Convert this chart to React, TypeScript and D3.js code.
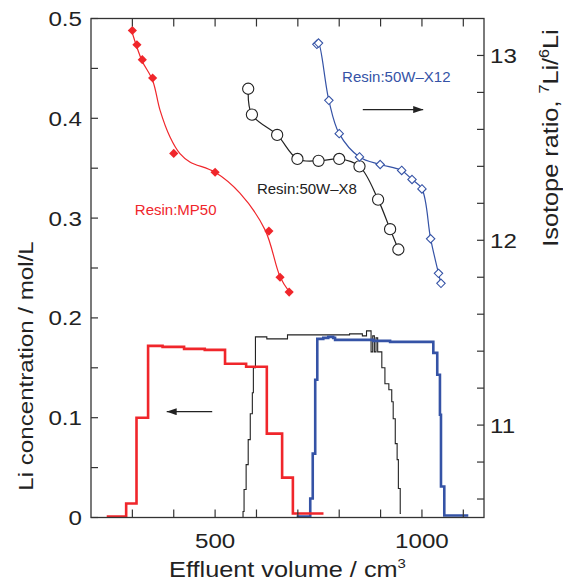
import React from 'react';
import * as d3 from 'd3';

// ---- isotope ratio data (right axis) ----
const mp50Vol = [300, 311, 324, 349, 400, 500, 630, 657, 679];
const mp50Ratio = [13.135, 13.058, 12.977, 12.878, 12.47, 12.368, 12.05, 11.8, 11.72];
// smoothed fit drawn through the MP50 ratios
const mp50FitVol = [298, 323, 349, 367, 391, 415, 439, 500, 560, 621, 657, 679];
const mp50FitRatio = [13.135, 12.973, 12.865, 12.703, 12.559, 12.469, 12.424, 12.368, 12.255, 12.055, 11.803, 11.722];

const x8Vol = [580, 589, 650, 699, 750, 800, 849, 894, 923, 943];
const x8Ratio = [12.82, 12.68, 12.57, 12.44, 12.43, 12.44, 12.4, 12.22, 12.06, 11.95];

const x12Vol = [746, 750, 775, 800, 849, 899, 951, 976, 1000, 1021, 1040, 1046];
const x12Ratio = [13.06, 13.067, 12.757, 12.577, 12.451, 12.41, 12.378, 12.329, 12.278, 12.008, 11.821, 11.767];

// ---- Li concentration elution curves (left axis) ----
const mp50StepVol = [238, 285, 310, 338, 373, 425, 475, 524, 575, 625, 662, 688, 762];
const mp50StepConc = [0.001, 0.014, 0.1, 0.172, 0.171, 0.169, 0.168, 0.154, 0.151, 0.084, 0.04, 0.004, 0.004];

const x8StepVol = [565, 567.5, 570, 575, 580, 585, 590, 592.5, 597.5, 625, 675, 825, 856, 866, 877, 881, 885, 889, 893, 903, 910.5, 920, 927, 930.5, 935.5, 940, 943, 947.5, 949];
const x8StepConc = [0.0, 0.006, 0.028, 0.053, 0.078, 0.104, 0.125, 0.15, 0.181, 0.179, 0.183, 0.184, 0.182, 0.187, 0.166, 0.182, 0.166, 0.18, 0.166, 0.15, 0.134, 0.128, 0.116, 0.099, 0.074, 0.058, 0.029, 0.004, 0.004];

const x12StepVol = [697, 730, 736, 742, 747, 761.5, 773.5, 785.5, 790, 882.5, 923, 1027.5, 1037, 1043.5, 1046, 1054, 1112];
const x12StepConc = [0.001, 0.019, 0.064, 0.138, 0.179, 0.18, 0.181, 0.18, 0.178, 0.177, 0.176, 0.165, 0.143, 0.103, 0.031, 0.002, 0.002];

// ---- axes ----
const volTicks = [300, 400, 500, 600, 700, 800, 900, 1000, 1100];
const volLabels = ['500', '1000'];
const concTicks = [0, 0.05, 0.1, 0.15, 0.2, 0.25, 0.3, 0.35, 0.4, 0.45, 0.5];
const concLabels = ['0', '0.1', '0.2', '0.3', '0.4', '0.5'];
const ratioTicks = [10.6, 10.8, 11, 11.2, 11.4, 11.6, 11.8, 12, 12.2, 12.4, 12.6, 12.8, 13];
const ratioLabels = ['11', '12', '13'];

const RED = '#f0262b';
const BLUE = '#3553a6';
const INK = '#222';

function SText(props: any) {
  const { x, y, size, anchor = 'start', rotate = 0, sx = 1.15, fill = INK, children } = props;
  return (
    <g transform={`translate(${x},${y}) rotate(${rotate}) scale(${sx},1)`}>
      <text fontSize={size} textAnchor={anchor} fill={fill}>
        {children}
      </text>
    </g>
  );
}

const diamond = (r: number) => `M0,${-r}L${r},0L0,${r}L${-r},0Z`;

export default function App() {
  const left = 91, right = 484, top = 18.5, bottom = 517.5;
  const x = d3.scaleLinear().domain([200, 1150]).range([left, right]);
  const yC = d3.scaleLinear().domain([0, 0.5]).range([bottom, top]);
  const yR = d3.scaleLinear().domain([10.5, 13.2]).range([bottom, top]);

  const step = (vs: number[], cs: number[]) =>
    d3.line<number>().x((d) => x(d)).y((_, i) => yC(cs[i])).curve(d3.curveStepAfter)(vs) || '';
  const smooth = (vs: number[], rs: number[]) =>
    d3.line<number>().x((d) => x(d)).y((_, i) => yR(rs[i])).curve(d3.curveCatmullRom.alpha(0.5))(vs) || '';

  const tick = 8;

  return (
    <svg
      width={563}
      height={583}
      style={{ position: 'absolute', left: 0, top: 0, background: '#fff' }}
      fontFamily="'Liberation Sans', Arial, sans-serif"
    >
      <defs>
        <marker id="arrow" viewBox="0 0 10 7" refX={10} refY={3.5} markerWidth={10} markerHeight={7} markerUnits="userSpaceOnUse" orient="auto">
          <path d="M0,0L10,3.5L0,7Z" fill={INK} />
        </marker>
      </defs>

      {/* elution steps */}
      <path d={step(x8StepVol, x8StepConc)} fill="none" stroke={INK} strokeWidth={1.1} />
      <path d={step(x12StepVol, x12StepConc)} fill="none" stroke={BLUE} strokeWidth={2.6} />
      <path d={step(mp50StepVol, mp50StepConc)} fill="none" stroke={RED} strokeWidth={2.6} />

      {/* ratio curves */}
      <path d={smooth(mp50FitVol, mp50FitRatio)} fill="none" stroke={RED} strokeWidth={1.2} />
      <path d={smooth(x8Vol, x8Ratio)} fill="none" stroke={INK} strokeWidth={1.2} />
      <path d={smooth(x12Vol, x12Ratio)} fill="none" stroke={BLUE} strokeWidth={1.2} />

      {mp50Vol.map((v, i) => (
        <path key={'m' + i} d={diamond(4.6)} transform={`translate(${x(v)},${yR(mp50Ratio[i])})`} fill={RED} />
      ))}
      {x8Vol.map((v, i) => (
        <circle key={'c' + i} cx={x(v)} cy={yR(x8Ratio[i])} r={5.6} fill="#fff" stroke={INK} strokeWidth={1.1} />
      ))}
      {x12Vol.map((v, i) => (
        <path key={'d' + i} d={diamond(4.2)} transform={`translate(${x(v)},${yR(x12Ratio[i])})`} fill="#fff" stroke={BLUE} strokeWidth={1.1} />
      ))}

      {/* arrows */}
      <line x1={x(857)} x2={x(1003)} y1={yR(12.707)} y2={yR(12.707)} stroke={INK} strokeWidth={1.2} markerEnd="url(#arrow)" />
      <line x1={x(493)} x2={x(383)} y1={yC(0.106)} y2={yC(0.106)} stroke={INK} strokeWidth={1.2} markerEnd="url(#arrow)" />

      {/* series labels */}
      <text x={x(306)} y={yR(12.136)} fontSize={15} fill={RED}>Resin:MP50</text>
      <text x={x(601)} y={yR(12.25)} fontSize={15} fill={INK}>Resin:50W–X8</text>
      <text x={x(807)} y={yR(12.854)} fontSize={15} fill={BLUE}>Resin:50W–X12</text>

      {/* frame */}
      <rect x={left} y={top} width={right - left} height={bottom - top} fill="none" stroke="#333" strokeWidth={1.3} />
      {volTicks.map((t) => (
        <g key={'vt' + t} stroke="#333" strokeWidth={1.2}>
          <line x1={x(t)} x2={x(t)} y1={bottom} y2={bottom - tick} />
          <line x1={x(t)} x2={x(t)} y1={top} y2={top + tick} />
        </g>
      ))}
      {concTicks.map((t) => (
        <line key={'ct' + t} x1={left} x2={left + 7} y1={yC(t)} y2={yC(t)} stroke="#333" strokeWidth={1.2} />
      ))}
      {ratioTicks.map((t) => (
        <line key={'rt' + t} x1={right} x2={right - 7} y1={yR(t)} y2={yR(t)} stroke="#333" strokeWidth={1.2} />
      ))}

      {concLabels.map((l) => (
        <SText key={'cl' + l} x={82} y={yC(+l) + 7.5} size={21} anchor="end">{l}</SText>
      ))}
      {ratioLabels.map((l) => (
        <SText key={'rl' + l} x={490} y={yR(+l) + 7.5} size={21}>{l}</SText>
      ))}
      {volLabels.map((l) => (
        <SText key={'vl' + l} x={x(+l)} y={548} size={21} anchor="middle">{l}</SText>
      ))}

      {/* axis titles */}
      <SText x={(left + right) / 2} y={577} size={22} anchor="middle">
        Effluent volume / cm<tspan dy={-9} fontSize={13}>3</tspan>
      </SText>
      <SText x={33} y={366} size={21} anchor="middle" rotate={-90}>
        Li concentration / mol/L
      </SText>
      <SText x={558} y={138} size={22} anchor="middle" rotate={-90}>
        Isotope ratio, <tspan dy={-9} fontSize={14}>7</tspan>
        <tspan dy={9}>Li/</tspan>
        <tspan dy={-9} fontSize={14}>6</tspan>
        <tspan dy={9}>Li</tspan>
      </SText>
    </svg>
  );
}
